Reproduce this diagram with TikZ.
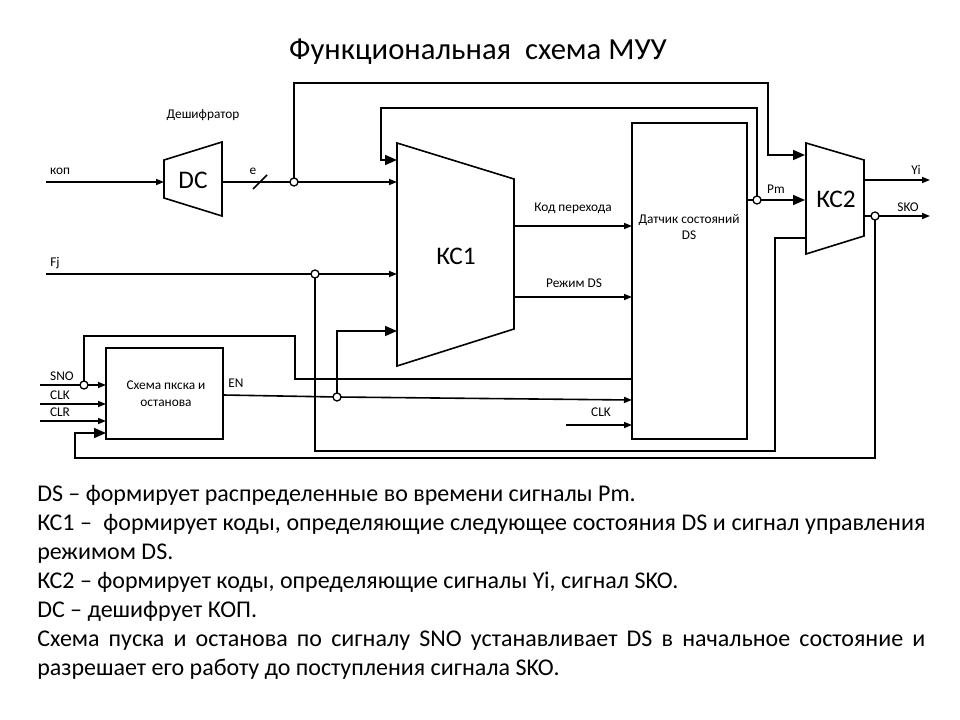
\documentclass[tikz,border=0pt]{standalone}
\usepackage{fontspec}
\setmainfont{Carlito}
\usetikzlibrary{arrows.meta}
\begin{document}
\begin{tikzpicture}[x=0.75pt,y=-0.75pt,
  wire/.style={line width=1.2pt, line join=miter},
  sarr/.style={wire,-{Triangle[length=6pt,width=4.5pt]}},
  barr/.style={wire,-{Triangle[length=9pt,width=7.5pt]}},
  junc/.style={circle,draw,fill=white,line width=1pt,inner sep=0pt,minimum size=6pt},
  lbl/.style={font=\fontsize{10}{12}\selectfont,inner sep=0pt},
  big/.style={font=\fontsize{19}{22}\selectfont,inner sep=0pt}]
\useasboundingbox (0,0) rectangle (960,720);
% title
\node[font=\fontsize{23}{27}\selectfont,inner sep=0pt] (title) at (478,52) {Функциональная\ \ схема МУУ};
% shapes
\draw[wire] (164,160) -- (222,142) -- (222,216) -- (164,198) -- cycle;
\node[big] (dc) at (193,180) {DC};
\draw[wire] (397,143) -- (514,179) -- (514,329) -- (397,366) -- cycle;
\node[big] (kc1) at (456,256) {КС1};
\draw[wire] (806,143) -- (864,160) -- (864,236) -- (806,254) -- cycle;
\node[big] (kc2) at (836,199) {КС2};
\draw[wire] (632,123) rectangle (747,439);
\node[lbl,align=center] (ds) at (689,227) {Датчик состояний\\[0pt]DS};
\draw[wire] (106,348) rectangle (223,439);
\node[lbl,align=center] (sps) at (166,394) {Схема пкска и\\[1pt]останова};
% junctions
\coordinate (je) at (294,182);
\coordinate (jfj) at (315,274);
\coordinate (jen) at (337,397);
\coordinate (jpm) at (757,200);
\coordinate (jsko) at (875,216);
\coordinate (jsno) at (84,385);
% wires
\draw[sarr] (46,182) -- (164,182);
\draw[wire] (222,182) -- (je);
\draw[sarr] (je) -- (397,182);
\draw[wire] (253,189) -- (267,175);
\draw[barr] (je) -- (294,83) -- (768,83) -- (768,155) -- (805,155);
\draw[barr] (jpm) -- (757,108) -- (381,108) -- (381,160) -- (397,160);
\draw[sarr] (46,274) -- (jfj) -- (397,274);
\draw[wire] (jfj) -- (315,451) -- (775,451) -- (775,238) -- (806,238);
\draw[barr] (jen) -- (337,331) -- (397,331);
\draw[sarr] (514,226) -- (632,226);
\draw[sarr] (514,297) -- (632,297);
\draw[wire] (747,200) -- (jpm);
\draw[barr] (jpm) -- (805,200);
\draw[sarr] (864,180) -- (930,180);
\draw[sarr] (864,216) -- (930,216);
\draw[barr] (jsko) -- (875,458) -- (75,458) -- (75,433) -- (106,433);
\draw[sarr] (40,385) -- (106,385);
\draw[wire] (jsno) -- (84,336) -- (295,336) -- (295,379) -- (632,379);
\draw[sarr] (40,404) -- (106,404);
\draw[sarr] (40,421) -- (106,421);
\draw[wire] (223,395) -- (jen);
\draw[sarr] (jen) -- (632,400);
\draw[sarr] (566,425) -- (632,425);
% junction circles
\foreach \j in {je,jfj,jen,jpm,jsko,jsno} \node[junc] at (\j) {};
% labels
\node[lbl] (l1) at (203,115) {Дешифратор};
\node[lbl] (l2) at (60,171) {коп};
\node[lbl] (l3) at (253,171) {e};
\node[lbl] (l4) at (55,263) {Fj};
\node[lbl] (l5) at (573,208) {Код перехода};
\node[lbl] (l6) at (574,283) {Режим DS};
\node[lbl] (l7) at (776,189) {Pm};
\node[lbl] (l8) at (916,170) {Yi};
\node[lbl] (l9) at (908,207) {SKO};
\node[lbl] (l10) at (62,376) {SNO};
\node[lbl] (l11) at (60,395) {CLK};
\node[lbl] (l12) at (60,412) {CLR};
\node[lbl] (l13) at (236,383) {EN};
\node[lbl] (l14) at (601,412) {CLK};
% description
\node[anchor=north west,inner sep=0pt,text width=666pt,align=justify,
      font=\fontsize{18}{21.75}\selectfont] (desc) at (37,485)
{DS – формирует распределенные во времени сигналы Pm.\par
КС1 –\ \ формирует коды, определяющие следующее состояния DS и сигнал управления\linebreak режимом DS.\par
КС2 – формирует коды, определяющие сигналы Yi, сигнал SKO.\par
DC – дешифрует КОП.\par
Схема пуска и останова по сигналу SNO устанавливает DS в начальное состояние и\linebreak разрешает его работу до поступления сигнала SKO.\par};
\end{tikzpicture}
\end{document}
